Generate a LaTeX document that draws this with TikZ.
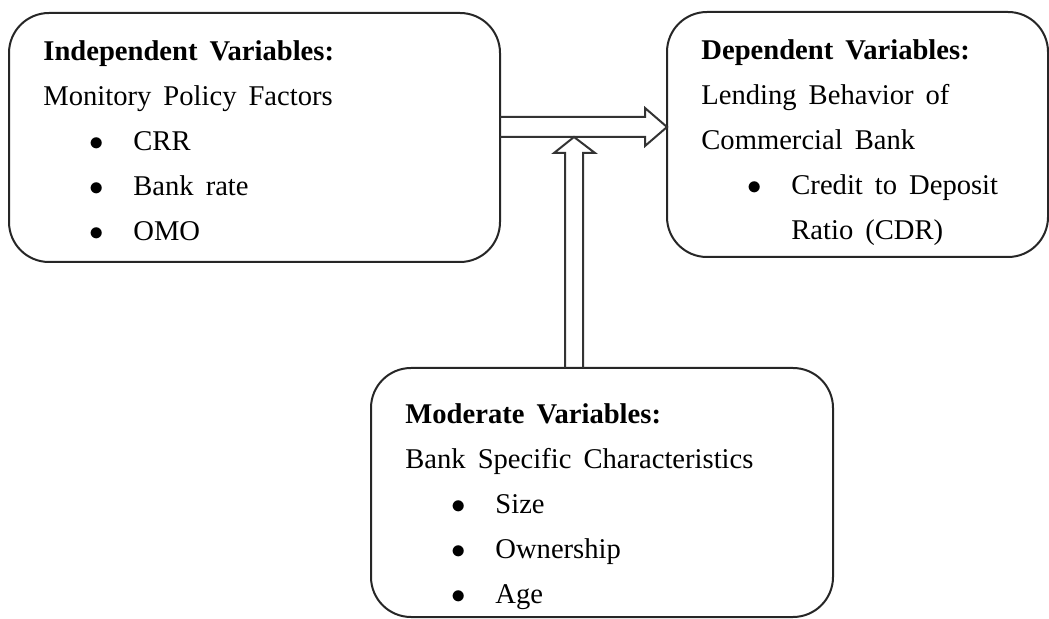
\documentclass[tikz,border=0pt]{standalone}
\usepackage{fontspec}
\setmainfont{Liberation Serif}
\usetikzlibrary{calc}

\newcommand{\varfont}{\fontsize{14.3}{22.5}\selectfont\spaceskip=0.42em plus 0.1em\relax}
\newcommand{\itembul}[1]{\hspace*{23pt}\makebox[22pt][l]{$\bullet$}#1}

\begin{document}
\begin{tikzpicture}[x=0.5pt, y=-0.5pt,
  varbox/.style={draw=black!85, line width=1pt, rounded corners=20pt,
                 anchor=north west, inner sep=0pt, outer sep=0pt},
  vartext/.style={anchor=north west, align=left, inner sep=0pt, font=\varfont},
  hollow/.style={draw=black!80, line width=1pt, line join=miter},
  ]
\useasboundingbox (0,0) rectangle (1049,619);

\node[varbox, minimum width=245.5pt, minimum height=124.5pt] (indep) at (9,13) {};
\node[varbox, minimum width=190.5pt, minimum height=122.5pt] (dep) at (667,12) {};
\node[varbox, minimum width=231pt, minimum height=124.5pt] (mod) at (371,368) {};

\node[vartext] (indeptext) at ($(indep.north west)+(34,27)$) {%
  \textbf{Independent Variables:}\\
  Monitory Policy Factors\\
  \itembul{CRR}\\
  \itembul{Bank rate}\\
  \itembul{OMO}};
\node[vartext] (deptext) at ($(dep.north west)+(34,27)$) {%
  \textbf{Dependent Variables:}\\
  Lending Behavior of\\
  Commercial Bank\\
  \itembul{Credit to Deposit}\\
  \hspace*{45pt}Ratio (CDR)};
\node[vartext] (modtext) at ($(mod.north west)+(34,35)$) {%
  \textbf{Moderate Variables:}\\
  Bank Specific Characteristics\\
  \itembul{Size}\\
  \itembul{Ownership}\\
  \itembul{Age}};

% axis of the two block arrows
\coordinate (link) at (0,127);
\coordinate (up) at (574,137);

\draw[hollow] ($(indep.east |- link)+(0,-10)$) -- ($(dep.west |- link)+(-22,-10)$)
  -- ++(0,-9) -- (dep.west |- link) -- ++(-22,19) -- ++(0,-9)
  -- ($(indep.east |- link)+(0,10)$);
\draw[hollow] ($(mod.north -| up)+(-9,0)$) -- ($(up)+(-9,16)$)
  -- ++(-11,0) -- (up) -- ++(21,16) -- ++(-12,0)
  -- ($(mod.north -| up)+(9,0)$);
\end{tikzpicture}
\end{document}
